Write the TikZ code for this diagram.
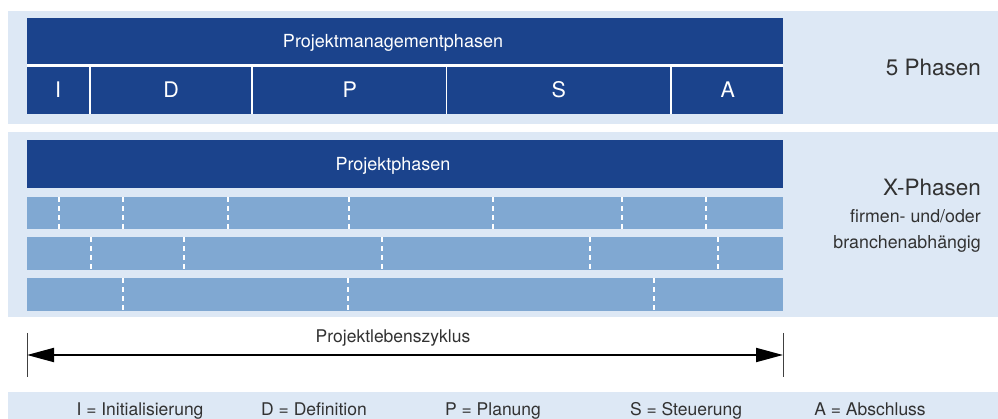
\documentclass[tikz,border=0pt]{standalone}
\usepackage{fontspec}
\setmainfont{TeX Gyre Heros}
\usetikzlibrary{arrows.meta}
\definecolor{darkblue}{RGB}{27,67,140}
\definecolor{midblue}{RGB}{128,168,210}
\definecolor{paleblue}{RGB}{221,232,245}
\definecolor{labelgray}{RGB}{50,50,50}
\tikzset{
  panel/.style={fill=paleblue},
  darkbar/.style={fill=darkblue, draw=none, inner sep=0pt, anchor=north west},
  rowbar/.style={fill=midblue, draw=none, inner sep=0pt, anchor=north west},
  whitetext/.style={text=white, anchor=base, inner sep=0pt, font=\fontsize{18}{21}\selectfont},
  lettertext/.style={text=white, anchor=base, inner sep=0pt, font=\fontsize{21.5}{24}\selectfont},
  sidebig/.style={text=labelgray, anchor=base east, inner sep=0pt, font=\fontsize{22.5}{26}\selectfont},
  sidesmall/.style={text=labelgray, anchor=base east, inner sep=0pt, font=\fontsize{17.8}{20}\selectfont},
  legendtext/.style={text=labelgray, anchor=base, inner sep=0pt, font=\fontsize{17.5}{20}\selectfont},
  split/.style={draw=white, line width=1.2pt, dash pattern=on 5pt off 4pt},
  tick/.style={draw=black!75, line width=1pt},
  span/.style={draw=black, line width=2pt, {Triangle[length=27pt,width=14pt]}-{Triangle[length=27pt,width=14pt]}}
}
\begin{document}
\begin{tikzpicture}[x=1pt,y=-1pt]
\useasboundingbox (0,0) rectangle (998,419);
\fill[white] (0,0) rectangle (998,419);

% ---- management phases panel ----
\fill[panel] (8,11) rectangle (998,124);
\node[darkbar, minimum width=756pt, minimum height=46pt] (pmbar) at (27,18) {};
\node[whitetext] (pmlabel) at (393,48) {Projektmanagementphasen};
\fill[white] (27,64) rectangle (783,114);
\node[darkbar, minimum width=62pt,  minimum height=47pt] (cI) at (27,67)  {};
\node[darkbar, minimum width=160pt, minimum height=47pt] (cD) at (91,67)  {};
\node[darkbar, minimum width=193pt, minimum height=47pt] (cP) at (253,67) {};
\node[darkbar, minimum width=223pt, minimum height=47pt] (cS) at (447,67) {};
\node[darkbar, minimum width=111pt, minimum height=47pt] (cA) at (672,67) {};
\node[lettertext] at (cI.center |- 0,98) {I};
\node[lettertext] at (cD.center |- 0,98) {D};
\node[lettertext] at (cP.center |- 0,98) {P};
\node[lettertext] at (cS.center |- 0,98) {S};
\node[lettertext] at (cA.center |- 0,98) {A};
\node[sidebig] (five) at (981,76) {5 Phasen};

% ---- project phases panel ----
\fill[panel] (8,132) rectangle (998,317);
\node[darkbar, minimum width=756pt, minimum height=48pt] (ppbar) at (27,140) {};
\node[whitetext] (pplabel) at (393,171) {Projektphasen};
\node[rowbar, minimum width=756pt, minimum height=32pt] (r1) at (27,197) {};
\node[rowbar, minimum width=756pt, minimum height=33pt] (r2) at (27,237) {};
\node[rowbar, minimum width=756pt, minimum height=33pt] (r3) at (27,278) {};
\foreach \x in {59,123,228,349,493,622,706}
  \draw[split] (\x,197) -- (\x,229);
\foreach \x in {91,184,382,590,718}
  \draw[split] (\x,237) -- (\x,270);
\foreach \x in {123,348,654}
  \draw[split] (\x,278) -- (\x,311);
\node[sidebig] (xph) at (981,196) {X-Phasen};
\node[sidesmall] (firm) at (981,223) {firmen- und/oder};
\node[sidesmall] (branch) at (981,249) {branchenabhängig};

% ---- life cycle span ----
\coordinate (L) at (27,355);
\coordinate (R) at (783,355);
\draw[tick] (27,333) -- (27,377);
\draw[tick] (783,333) -- (783,377);
\draw[span] (L) -- (R);
\node[legendtext] (cycle) at (393,342) {Projektlebenszyklus};

% ---- legend ----
\fill[panel] (8,392) rectangle (998,419);
\node[legendtext] (kI) at (140,415) {I = Initialisierung};
\node[legendtext] (kD) at (314,415) {D = Definition};
\node[legendtext] (kP) at (493,415) {P = Planung};
\node[legendtext] (kS) at (686,415) {S = Steuerung};
\node[legendtext] (kA) at (870,415) {A = Abschluss};
\end{tikzpicture}
\end{document}
